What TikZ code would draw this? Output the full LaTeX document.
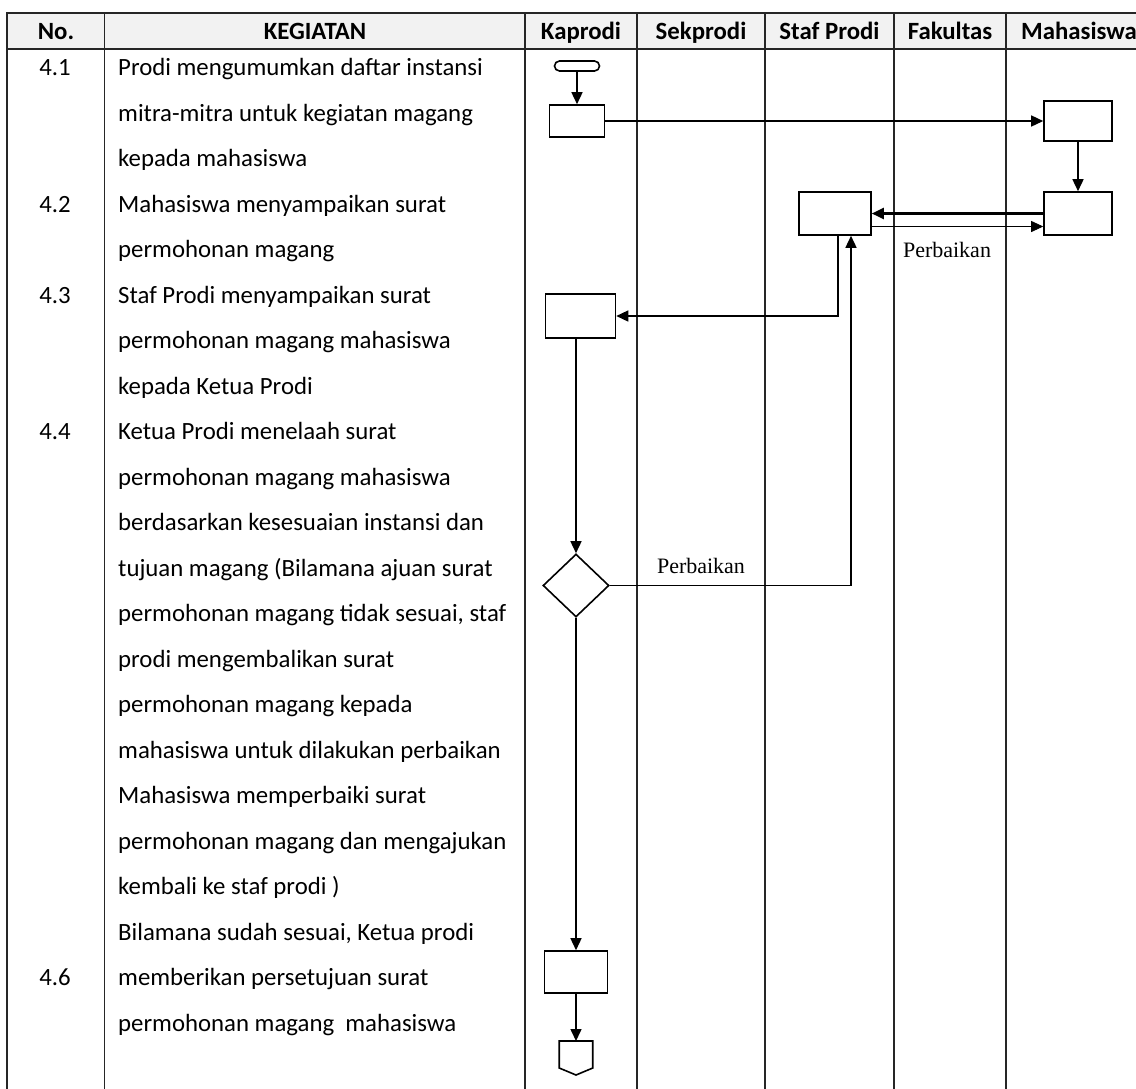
\documentclass[tikz,border=0pt]{standalone}
\usepackage{fontspec}
\setmainfont{Carlito}
\newfontfamily\serifkecil{Liberation Serif}
\usepackage{tikz}
\usetikzlibrary{arrows.meta, positioning, calc, shapes.geometric}
\definecolor{abu}{HTML}{F2F2F2}
\definecolor{garisgelap}{HTML}{262626}

\begin{document}
\begin{tikzpicture}[x=1pt, y=-1pt,
    garis/.style={line width=1.7pt, draw=garisgelap},
    proses/.style={draw, line width=1.6pt, inner sep=0pt},
    panah/.style={line width=1.5pt, -{Triangle[length=12pt, width=11pt]}},
    teks/.style={anchor=base west, inner sep=0pt, font=\fontsize{24.8}{30}\selectfont},
    nomor/.style={anchor=base, inner sep=0pt, font=\fontsize{24.8}{30}\selectfont},
    judulkolom/.style={anchor=base, inner sep=0pt, font=\bfseries\fontsize{24.8}{30}\selectfont},
    label/.style={inner sep=1pt, font=\serifkecil\fontsize{22}{26}\selectfont}]
    \useasboundingbox (0,0) rectangle (1136,1088);
    \clip (0,0) rectangle (1136,1088);

    % kepala tabel
    \fill[abu] (7.3,13.3) rectangle (1140,48.7);
    \draw[garis] (1140,13.3) -- (7.3,13.3) -- (7.3,1092);
    \draw[garis] (7.3,48.7) -- (1140,48.7);
    \foreach \x in {104.5, 525, 637, 765, 894, 1006}
        \draw[garis] (\x,13.3) -- (\x,1092);

    \node[judulkolom] (hNo) at (56,39) {No.};
    \node[judulkolom] (hKeg) at (315,39) {KEGIATAN};
    \node[judulkolom] (hKap) at (581,39) {Kaprodi};
    \node[judulkolom] (hSek) at (701,39) {Sekprodi};
    \node[judulkolom] (hStaf) at (829.5,39) {Staf Prodi};
    \node[judulkolom] (hFak) at (950,39) {Fakultas};
    \node[judulkolom] (hMhs) at (1079,39) {Mahasiswa};

    % nomor kegiatan
    \foreach \no/\i in {4.1/0, 4.2/3, 4.3/5, 4.4/8, 4.6/20}
        \node[nomor] (no\i) at (55,75.5+45.5*\i) {\no};

    % uraian kegiatan
    \foreach \baris [count=\i from 0] in {
        Prodi mengumumkan daftar instansi,
        mitra-mitra untuk kegiatan magang,
        kepada mahasiswa,
        Mahasiswa menyampaikan surat,
        permohonan magang,
        Staf Prodi menyampaikan surat,
        permohonan magang mahasiswa,
        kepada Ketua Prodi,
        Ketua Prodi menelaah surat,
        permohonan magang mahasiswa,
        berdasarkan kesesuaian instansi dan,
        tujuan magang (Bilamana ajuan surat,
        {permohonan magang tidak sesuai, staf},
        prodi mengembalikan surat,
        permohonan magang kepada,
        mahasiswa untuk dilakukan perbaikan,
        Mahasiswa memperbaiki surat,
        permohonan magang dan mengajukan,
        kembali ke staf prodi ),
        {Bilamana sudah sesuai, Ketua prodi},
        memberikan persetujuan surat,
        permohonan magang\ \ mahasiswa}
        \node[teks] (k\i) at (118,75.5+45.5*\i) {\baris};

    % simbol alur
    \node[proses, rounded corners=5pt, minimum width=45pt, minimum height=10pt] (mulai) at (577,66) {};
    \node[proses, minimum width=55pt, minimum height=32pt] (kp1) at (577,121) {};
    \node[proses, minimum width=68pt, minimum height=40pt] (mh1) at (1078,121) {};
    \node[proses, minimum width=68pt, minimum height=43pt] (mh2) at (1078,213.5) {};
    \node[proses, minimum width=72pt, minimum height=43pt] (sp1) at (835,213.5) {};
    \node[proses, minimum width=70pt, minimum height=44pt] (kp2) at (580.5,316) {};
    \node[proses, diamond, minimum width=66pt, minimum height=63pt] (cek) at (576,585.5) {};
    \node[proses, minimum width=63pt, minimum height=42pt] (kp3) at (576,972) {};
    \coordinate (akhir) at (576,1041);
    \draw[line width=1.6pt] (akhir) -- (592.75,1041) -- (592.75,1068) -- (576,1075)
        -- (559.25,1068) -- (559.25,1041) -- cycle;

    % panah
    \draw[panah] (mulai) -- (kp1);
    \draw[panah] (kp1.east) -- (kp1.east -| mh1.west);
    \draw[panah] (mh1) -- (mh2);
    \draw[panah, line width=2.2pt] (mh2.west) -- (mh2.west -| sp1.east);
    \draw[panah, line width=0.8pt] ([yshift=-13pt]sp1.east) -- ([yshift=-13pt]sp1.east -| mh2.west);
    \node[label] (lblA) at (947,250) {Perbaikan};
    \draw[panah] ([xshift=3pt]sp1.south) |- (kp2.east);
    \draw[panah] (kp2.south -| cek.north) -- (cek.north);
    \draw[panah] (cek.east) -| ([xshift=16pt]sp1.south);
    \node[label] (lblB) at (701,566) {Perbaikan};
    \draw[panah] (cek.south) -- (kp3.north);
    \draw[panah] (kp3) -- (akhir);
\end{tikzpicture}
\end{document}
